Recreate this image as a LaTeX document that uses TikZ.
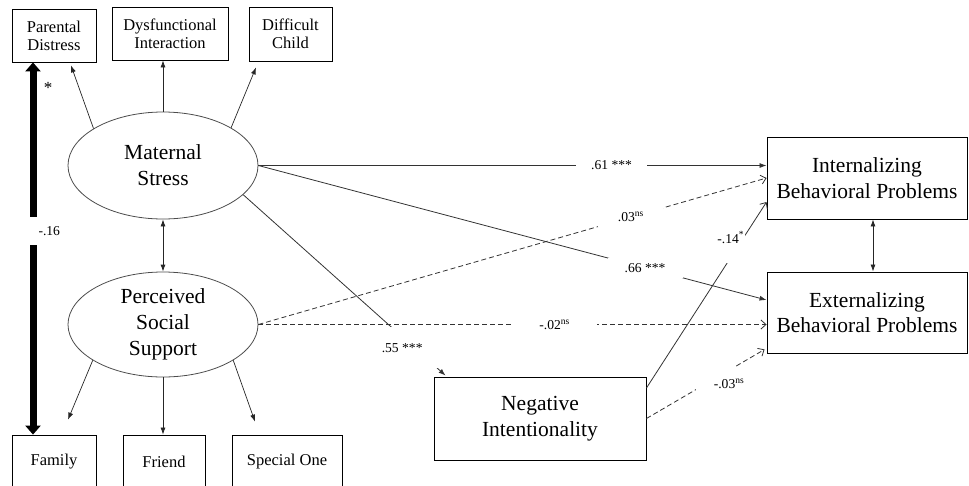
\documentclass[tikz,border=0pt]{standalone}
\usepackage{fontspec}
\setmainfont{Liberation Serif}
\newfontfamily\tnr{Liberation Serif}
\usetikzlibrary{shapes.geometric,arrows.meta,calc}
\begin{document}
\begin{tikzpicture}[x=1pt,y=-1pt,
  every node/.style={inner sep=0pt},
  smallbox/.style={draw=black, line width=0.8pt, minimum height=53pt, align=center, font=\tnr\fontsize{16.5}{18}\selectfont},
  bigbox/.style={draw=black, line width=0.9pt, align=center, font=\tnr\fontsize{21.5}{25.5}\selectfont},
  latent/.style={ellipse, draw=black!70, line width=0.8pt, minimum width=190pt, align=center, font=\tnr\fontsize{21.5}{26}\selectfont},
  ind/.style={-{Latex[length=7pt,width=5pt]}, line width=0.7pt, draw=black!85},
  dbl/.style={{Latex[length=7pt,width=5pt]}-{Latex[length=7pt,width=5pt]}, line width=0.8pt, draw=black!85},
  sigpath/.style={-{Latex[length=7pt,width=5pt]}, line width=0.8pt, draw=black!80},
  barbpath/.style={-{Straight Barb[length=5pt,width=9pt]}, line width=0.8pt, draw=black!80},
  nspath/.style={barbpath, dash pattern=on 5pt off 3pt},
  coef/.style={fill=white, font=\tnr\fontsize{13.6}{15}\selectfont},
  thickbar/.style={line width=7pt, draw=black, {Triangle[length=9pt,width=15pt]}-{Triangle[length=9pt,width=15pt]}}
]
\useasboundingbox (0,0) rectangle (969,485);

% indicator boxes
\node[smallbox, minimum width=84pt] (pd) at (54,35.5) {Parental\\Distress};
\node[smallbox, minimum width=116pt] (di) at (170,33.5) {Dysfunctional\\Interaction};
\node[smallbox, minimum width=83pt, minimum height=54pt] (dc) at (290.5,34) {Difficult\\Child};
\node[smallbox, minimum width=84pt] (fam) at (54,461.5) {Family};
\node[smallbox, minimum width=82pt] (fr) at (164,461.5) {Friend};
\node[smallbox, minimum width=110pt] (so) at (287,461.5) {Special One};

% latent variables
\node[latent, minimum height=107pt] (ms) at (163,165.5) {Maternal\\Stress};
\node[latent, minimum height=105pt] (pss) at (163,324.5) {Perceived\\Social\\Support};

% outcome boxes
\node[bigbox, minimum width=200pt, minimum height=82pt] (ibp) at (867,178) {Internalizing\\Behavioral Problems};
\node[bigbox, minimum width=200pt, minimum height=81pt] (ebp) at (867,312.5) {Externalizing\\Behavioral Problems};
\node[bigbox, minimum width=212pt, minimum height=83pt] (ni) at (540,418.5) {Negative\\Intentionality};

% indicator arrows
\draw[ind] (ms.152) -- ($(pd.south)+(17,3)$);
\draw[ind] (ms.north) -- (ms.north |- di.south);
\draw[ind] (ms.29) -- ($(dc.south)+(-34.5,6)$);
\draw[ind] (pss.207) -- ($(fam.north)+(14,-15)$);
\draw[ind] (pss.south) -- (pss.south |- fr.north);
\draw[ind] (pss.333) -- ($(so.north)+(-32,-13)$);

% correlations
\draw[dbl] (ms.south) -- (pss.north);
\draw[dbl] ($(ibp.south)+(6,0)$) -- ($(ebp.north)+(6,0)$);

% thick bar
\coordinate (bx) at (33,0);
\draw[thickbar] (bx |- pd.south) -- node[pos=0.453, anchor=west, xshift=-8pt, fill=white, inner xsep=0pt, minimum height=28pt, font=\tnr\fontsize{13.6}{15}\selectfont] {\hspace*{10pt}-.16\hspace*{3pt}} (bx |- fam.north);
\node[font=\tnr\fontsize{17}{17}\selectfont] (star) at (48,88) {*};

% structural paths
\draw[sigpath] (ms.-20.5) -- node[coef, pos=0.845, xshift=-5pt, text height=25pt, text depth=16pt, inner xsep=2pt] {.55 ***\hspace*{14pt}} ($(ni.north west)+(12,-1)$);
\draw[sigpath] (ms.east) -- node[coef, pos=0.695, inner xsep=15.5pt, minimum height=14pt] {.61 ***} (ms.east -| ibp.west);
\draw[sigpath] (ms.east) -- node[coef, pos=0.761, inner xsep=17pt, minimum height=20pt] {.66 ***} ($(ebp.west)+(0,-12.5)$);
\draw[nspath] (pss.east) -- node[coef, pos=0.733, inner xsep=19.5pt, minimum height=20pt] {.03\textsuperscript{ns}} (ibp.west);
\draw[nspath] (pss.east) -- node[coef, pos=0.583, inner xsep=27pt, minimum height=14pt] {-.02\textsuperscript{ns}} (pss.east -| ebp.west);
\draw[barbpath] ($(ni.east)+(0,-30.5)$) -- node[coef, pos=0.76, xshift=-7pt, text height=13pt, text depth=20pt, inner xsep=1pt] {-.14\textsuperscript{*}} ($(ibp.west)+(0,24)$);
\draw[nspath] (ni.east) -- node[coef, pos=0.564, xshift=7pt, text height=22pt, text depth=4pt] {\hspace*{18pt}-.03\textsuperscript{ns}} ($(ebp.south west)+(-2,-4)$);
\end{tikzpicture}
\end{document}
